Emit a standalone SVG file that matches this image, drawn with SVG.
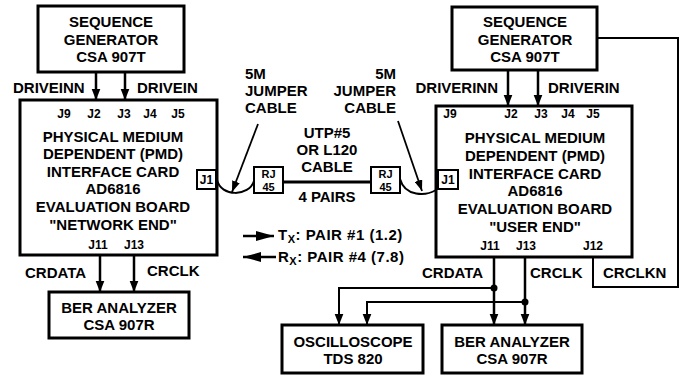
<svg xmlns="http://www.w3.org/2000/svg" width="682" height="376" viewBox="0 0 682 376">
<style>
.box{fill:#fff;stroke:#000;stroke-width:3}
.sm{fill:#fff;stroke:#000;stroke-width:2}
.t{font-family:"Liberation Sans",Arial,sans-serif;font-weight:bold;font-size:15px;fill:#000}
.m{text-anchor:middle}
.e{text-anchor:end}
.j{font-size:12px}
.r{font-size:11px}
.w{stroke:#000;stroke-width:2.5;fill:none}
.n{stroke:#000;stroke-width:1.8;fill:none}
.c{stroke:#000;stroke-width:2;fill:none}
</style>
<defs>
<marker id="ah" markerUnits="userSpaceOnUse" markerWidth="11" markerHeight="14" viewBox="0 0 14 11" refX="14" refY="5.5" orient="auto">
<path d="M0,0 L14,5.5 L0,11 z" fill="#000"/>
</marker>
<marker id="as" markerUnits="userSpaceOnUse" markerWidth="11" markerHeight="8" viewBox="0 0 11 8" refX="11" refY="4" orient="auto">
<path d="M0,0 L11,4 L0,8 z" fill="#000"/>
</marker>
<marker id="al" markerUnits="userSpaceOnUse" markerWidth="18" markerHeight="10" viewBox="0 0 18 10" refX="18" refY="5" orient="auto">
<path d="M0,0 L18,5 L0,10 z" fill="#000"/>
</marker>
</defs>

<g id="connectors">
<line class="w" x1="96" y1="72" x2="96" y2="100" marker-end="url(#ah)"/>
<line class="w" x1="125" y1="72" x2="125" y2="100" marker-end="url(#ah)"/>
<line class="w" x1="508" y1="70" x2="508" y2="106" marker-end="url(#ah)"/>
<line class="w" x1="538" y1="70" x2="538" y2="106" marker-end="url(#ah)"/>
<line class="w" x1="100" y1="255" x2="100" y2="292" marker-end="url(#ah)"/>
<line class="w" x1="134" y1="255" x2="134" y2="292" marker-end="url(#ah)"/>
<line class="w" x1="494" y1="257" x2="494" y2="325" marker-end="url(#ah)"/>
<line class="w" x1="525" y1="257" x2="525" y2="325" marker-end="url(#ah)"/>
<path class="c" d="M494,288 H339 V325" marker-end="url(#ah)"/>
<path class="c" d="M525,302 H367 V325" marker-end="url(#ah)"/>
<circle cx="494" cy="288" r="3.5" fill="#000"/>
<circle cx="525" cy="302" r="3.5" fill="#000"/>
<path class="c" d="M597,38 H678 V287 H593 V257"/>
<line class="box" x1="283" y1="182" x2="371" y2="182"/>
<path class="c" d="M217,180 C221,197 249,197 254,181"/>
<path class="c" d="M400,179 C405,197 426,196 436,190"/>
<line class="n" x1="258" y1="124" x2="232" y2="192" marker-end="url(#as)"/>
<line class="n" x1="398" y1="121" x2="422" y2="191" marker-end="url(#as)"/>
<line class="w" x1="243" y1="236" x2="274" y2="236" marker-end="url(#al)"/>
<line class="w" x1="276" y1="257" x2="243" y2="257" marker-end="url(#al)"/>
</g>

<g id="seqgen-left">
<rect class="box" x="38" y="6" width="146" height="66"/>
<text class="t m" x="111" y="27">SEQUENCE</text>
<text class="t m" x="111" y="45">GENERATOR</text>
<text class="t m" x="111" y="62">CSA 907T</text>
</g>

<g id="seqgen-right">
<rect class="box" x="452" y="7" width="145" height="63"/>
<text class="t m" x="525" y="27">SEQUENCE</text>
<text class="t m" x="525" y="45">GENERATOR</text>
<text class="t m" x="525" y="62">CSA 907T</text>
</g>

<g id="pmd-left">
<rect class="box" x="20" y="100" width="197" height="155"/>
<text class="t j m" x="64" y="118">J9</text>
<text class="t j m" x="94" y="118">J2</text>
<text class="t j m" x="124" y="118">J3</text>
<text class="t j m" x="150" y="118">J4</text>
<text class="t j m" x="178" y="118">J5</text>
<text class="t m" x="113" y="142">PHYSICAL MEDIUM</text>
<text class="t m" x="113" y="159">DEPENDENT (PMD)</text>
<text class="t m" x="113" y="177">INTERFACE CARD</text>
<text class="t m" x="113" y="194">AD6816</text>
<text class="t m" x="113" y="212">EVALUATION BOARD</text>
<text class="t m" x="113" y="230">"NETWORK END"</text>
<text class="t j m" x="98" y="249">J11</text>
<text class="t j m" x="134" y="249">J13</text>
<rect class="sm" x="197" y="170" width="19" height="19"/>
<text class="t j m" x="206.5" y="184">J1</text>
</g>

<g id="pmd-right">
<rect class="box" x="436" y="106" width="196" height="151"/>
<text class="t j m" x="450" y="118">J9</text>
<text class="t j m" x="511" y="118">J2</text>
<text class="t j m" x="541" y="118">J3</text>
<text class="t j m" x="568" y="118">J4</text>
<text class="t j m" x="593" y="118">J5</text>
<text class="t m" x="535" y="143">PHYSICAL MEDIUM</text>
<text class="t m" x="535" y="161">DEPENDENT (PMD)</text>
<text class="t m" x="535" y="179">INTERFACE CARD</text>
<text class="t m" x="535" y="196">AD6816</text>
<text class="t m" x="535" y="214">EVALUATION BOARD</text>
<text class="t m" x="535" y="232">"USER END"</text>
<text class="t j m" x="490" y="250">J11</text>
<text class="t j m" x="526" y="250">J13</text>
<text class="t j m" x="593" y="250">J12</text>
<rect class="sm" x="438" y="170" width="20" height="19"/>
<text class="t j m" x="448" y="184">J1</text>
</g>

<g id="rj45-left">
<rect class="sm" x="254" y="167" width="29" height="26"/>
<text class="t r m" x="268.5" y="178">RJ</text>
<text class="t r m" x="268.5" y="191">45</text>
</g>

<g id="rj45-right">
<rect class="sm" x="371" y="167" width="29" height="26"/>
<text class="t r m" x="385.5" y="178">RJ</text>
<text class="t r m" x="385.5" y="191">45</text>
</g>

<g id="ber-left">
<rect class="box" x="49" y="292" width="140" height="46"/>
<text class="t m" x="119" y="313">BER ANALYZER</text>
<text class="t m" x="119" y="330">CSA 907R</text>
</g>

<g id="oscilloscope">
<rect class="box" x="282" y="325" width="141" height="48"/>
<text class="t m" x="353" y="347">OSCILLOSCOPE</text>
<text class="t m" x="353" y="364">TDS 820</text>
</g>

<g id="ber-right">
<rect class="box" x="442" y="325" width="140" height="48"/>
<text class="t m" x="512" y="347">BER ANALYZER</text>
<text class="t m" x="512" y="364">CSA 907R</text>
</g>

<g id="labels">
<text class="t" x="13" y="93">DRIVEINN</text>
<text class="t" x="137" y="93">DRIVEIN</text>
<text class="t e" x="498" y="93">DRIVERINN</text>
<text class="t" x="548" y="93">DRIVERIN</text>
<text class="t" x="245" y="79" font-size="13">5M</text>
<text class="t" x="245" y="96">JUMPER</text>
<text class="t" x="245" y="113">CABLE</text>
<text class="t e" x="396" y="79" font-size="13">5M</text>
<text class="t e" x="396" y="96">JUMPER</text>
<text class="t e" x="396" y="113">CABLE</text>
<text class="t m" x="327" y="138">UTP#5</text>
<text class="t m" x="327" y="155">OR L120</text>
<text class="t m" x="327" y="172">CABLE</text>
<text class="t m" x="327" y="202">4 PAIRS</text>
<text class="t" x="278" y="240" letter-spacing="0.5">T<tspan font-size="11" dy="3">X</tspan><tspan dy="-3">: PAIR #1 (1.2)</tspan></text>
<text class="t" x="278" y="262" letter-spacing="0.5">R<tspan font-size="11" dy="3">X</tspan><tspan dy="-3">: PAIR #4 (7.8)</tspan></text>
<text class="t" x="25" y="278">CRDATA</text>
<text class="t" x="147" y="276">CRCLK</text>
<text class="t" x="422" y="278">CRDATA</text>
<text class="t" x="530" y="278">CRCLK</text>
<text class="t" x="603" y="278">CRCLKN</text>
</g>
</svg>
